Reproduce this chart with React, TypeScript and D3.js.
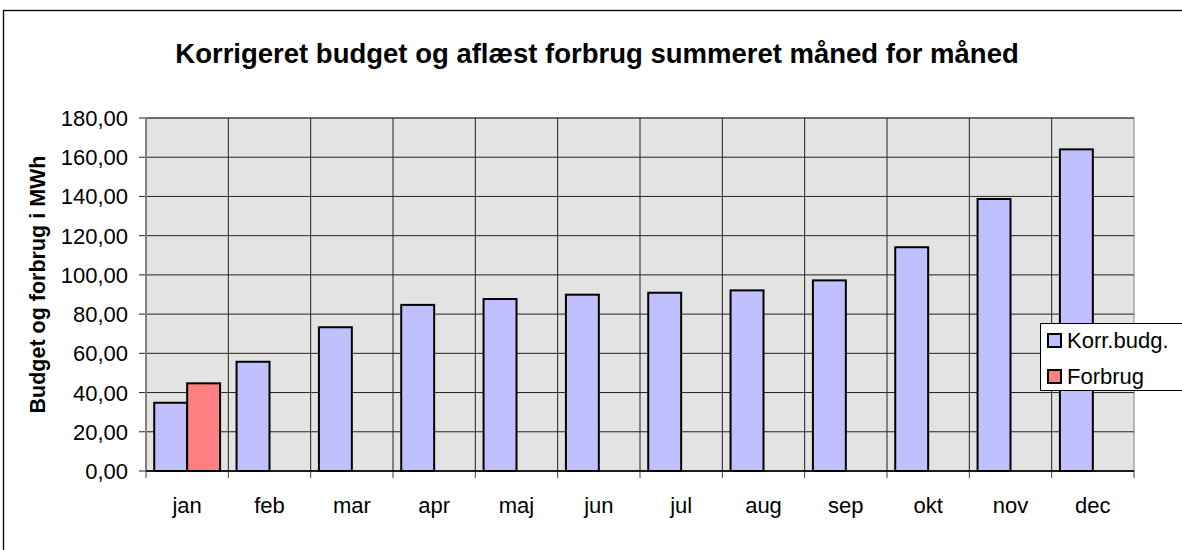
import React from "react";
import * as d3 from "d3";

const months = ["jan", "feb", "mar", "apr", "maj", "jun", "jul", "aug", "sep", "okt", "nov", "dec"];
const seriesNames = ["Korr.budg.", "Forbrug"];
const korrBudget = [34.8, 55.7, 73.3, 84.7, 87.7, 89.9, 90.9, 92.1, 97.2, 114.1, 138.7, 164.0];
const forbrug: (number | null)[] = [44.7, null, null, null, null, null, null, null, null, null, null, null];
const yTicks = [0, 20, 40, 60, 80, 100, 120, 140, 160, 180];
const colors = ["#c0c0ff", "#ff8080"];

const W = 1182;
const H = 550;
const plot = { left: 146, top: 118, right: 1134, bottom: 471 };
const font = "'Liberation Sans', Arial, sans-serif";

const App = () => {
  const x0 = d3.scaleBand().domain(months).range([plot.left, plot.right]).padding(0);
  const bw = x0.bandwidth();
  const pad = bw * 0.1;
  const x1 = d3.scaleBand().domain(seriesNames).range([pad, bw - pad]).padding(0);
  const y = d3.scaleLinear().domain([0, 180]).range([plot.bottom, plot.top]);
  const fmt = (v: number) => d3.format(".2f")(v).replace(".", ",");

  const series = [korrBudget, forbrug];

  return (
    <svg width={W} height={H} style={{ display: "block", position: "absolute", left: 0, top: 0 }} fontFamily={font}>
      <rect x={0} y={0} width={W} height={H} fill="#fff" />
      <rect x={3.5} y={10.5} width={W + 20} height={H + 20} fill="none" stroke="#000" strokeWidth={1.3} />
      <text x={597} y={63} textAnchor="middle" fontSize={27.5} fontWeight="bold">
        Korrigeret budget og aflæst forbrug summeret måned for måned
      </text>

      {/* plot area */}
      <rect x={plot.left} y={plot.top} width={plot.right - plot.left} height={plot.bottom - plot.top} fill="#e3e3e3" stroke="#808080" />
      {yTicks.map((t) => (
        <g key={t}>
          <line x1={plot.left} x2={plot.right} y1={y(t)} y2={y(t)} stroke="#222" />
          <line x1={plot.left - 7} x2={plot.left} y1={y(t)} y2={y(t)} stroke="#222" />
          <text x={128} y={y(t) + 8} textAnchor="end" fontSize={22}>
            {fmt(t)}
          </text>
        </g>
      ))}
      {months.map((m, i) => (
        <g key={m}>
          {i > 0 && <line x1={x0(m)!} x2={x0(m)!} y1={plot.top} y2={plot.bottom} stroke="#222" />}
          <line x1={x0(m)!} x2={x0(m)!} y1={plot.bottom} y2={plot.bottom + 7} stroke="#444" />
          <text x={x0(m)! + bw / 2} y={513} textAnchor="middle" fontSize={22}>
            {m}
          </text>
        </g>
      ))}
      <line x1={plot.right} x2={plot.right} y1={plot.bottom} y2={plot.bottom + 7} stroke="#444" />
      <line x1={plot.left} x2={plot.left} y1={plot.top} y2={plot.bottom} stroke="#808080" strokeWidth={2} />

      {series.map((vals, si) =>
        vals.map((v, i) =>
          v == null ? null : (
            <rect
              key={`${si}-${i}`}
              x={x0(months[i])! + x1(seriesNames[si])!}
              y={y(v)}
              width={x1.bandwidth()}
              height={plot.bottom - y(v)}
              fill={colors[si]}
              stroke="#000"
              strokeWidth={2}
            />
          )
        )
      )}
      <line x1={plot.left} x2={plot.right} y1={plot.bottom} y2={plot.bottom} stroke="#000" strokeWidth={1.5} />

      <text
        transform={`translate(45, ${(plot.top + plot.bottom) / 2 - 10}) rotate(-90)`}
        textAnchor="middle"
        fontSize={21.5}
        fontWeight="bold"
      >
        Budget og forbrug i MWh
      </text>

      {/* legend */}
      <rect x={1040.5} y={323.5} width={200} height={67} fill="#fff" stroke="#000" />
      {seriesNames.map((s, i) => (
        <g key={s}>
          <rect x={1048} y={334 + i * 36} width={13} height={13} fill={colors[i]} stroke="#000" strokeWidth={2} />
          <text x={1067} y={348 + i * 36} fontSize={22}>
            {s}
          </text>
        </g>
      ))}
    </svg>
  );
};

export default App;
